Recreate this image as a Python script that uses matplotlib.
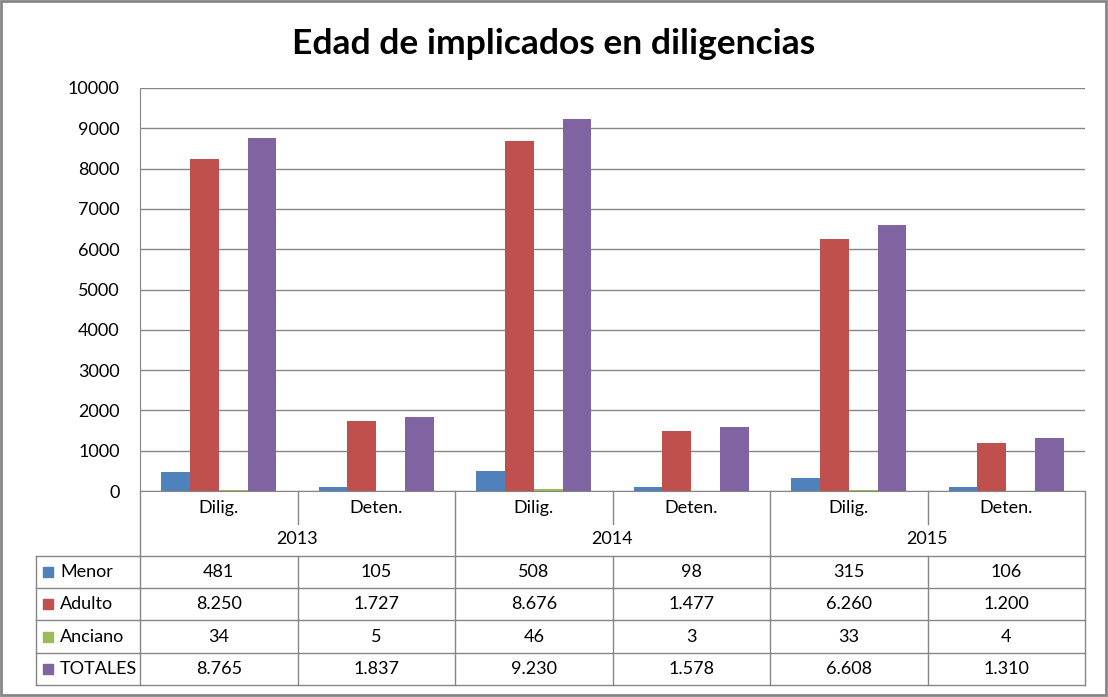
import numpy as np
import matplotlib
matplotlib.use("Agg")
import matplotlib.pyplot as plt
from matplotlib.lines import Line2D
from matplotlib.patches import Rectangle

plt.rcParams['font.family'] = ['Lato', 'DejaVu Sans']

### data
years = ['2013', '2014', '2015']
kinds = ['Dilig.', 'Deten.']
series = ['Menor', 'Adulto', 'Anciano', 'TOTALES']
menor = [481, 105, 508, 98, 315, 106]
adulto = [8250, 1727, 8676, 1477, 6260, 1200]
anciano = [34, 5, 46, 3, 33, 4]
totales = [8765, 1837, 9230, 1578, 6608, 1310]
colors = ['#4F81BD', '#C0504D', '#9BBB59', '#8064A2']

W, H = 1108, 697
fig = plt.figure(figsize=(W / 100, H / 100), dpi=100)

def fx(px):
  return px / W

def fy(py):
  return 1 - py / H

grey = '#868686'
x0, x1, ytop, ybot = 140, 1085, 88, 491
ax = fig.add_axes([fx(x0), fy(ybot), fx(x1 - x0), fy(ytop) - fy(ybot)])

values = [menor, adulto, anciano, totales]
ncat = len(menor)
xc = np.arange(ncat) + 0.5
bw = 0.183
for k, (vals, col) in enumerate(zip(values, colors)):
  ax.bar(xc + (k - 1.5) * bw, vals, width=bw, color=col, zorder=3)

ax.set_xlim(0, ncat)
ax.set_ylim(0, 10000)
ax.set_yticks(np.arange(0, 10001, 1000))
ax.set_xticks([])
ax.tick_params(axis='y', length=0, labelsize=13, pad=14.5)
ax.grid(axis='y', color=grey, linewidth=1, zorder=0)
for s in ['top', 'right']:
  ax.spines[s].set_visible(False)
ax.spines['left'].set_color(grey)
ax.spines['bottom'].set_color(grey)

fig.suptitle('Edad de implicados en diligencias', fontsize=25.5, fontweight='bold',
             y=fy(44), va='center')

### table below
def hline(xa, xb, y):
  fig.add_artist(Line2D([fx(xa), fx(xb)], [fy(y), fy(y)], color=grey, lw=1))

def vline(x, ya, yb):
  fig.add_artist(Line2D([fx(x), fx(x)], [fy(ya), fy(yb)], color=grey, lw=1))

colw = (x1 - x0) / ncat
rows = [556, 588, 620, 653, 685]
lx = 36
# category header
for i in range(ncat + 1):
  xx = x0 + i * colw
  if i % 2 == 0:
    vline(xx, ybot, rows[-1])
  else:
    vline(xx, ybot, 524)
for i in range(ncat):
  xx = x0 + (i + 0.5) * colw
  fig.text(fx(xx), fy(508), kinds[i % 2], ha='center', va='center', fontsize=13)
for j, yr in enumerate(years):
  xx = x0 + (2 * j + 1) * colw
  fig.text(fx(xx), fy(539), yr, ha='center', va='center', fontsize=13)
# data rows
for i in range(ncat):
  xx = x0 + i * colw
  if i % 2 == 1:
    vline(xx, rows[0], rows[-1])
vline(lx, rows[0], rows[-1])
for y in rows:
  hline(lx, x1, y)

def fmt(v):
  return '{:,}'.format(v).replace(',', '.')

for r, (name, vals, col) in enumerate(zip(series, values, colors)):
  yc = (rows[r] + rows[r + 1]) / 2
  fig.add_artist(Rectangle((fx(43), fy(yc + 5)), fx(10), fy(yc - 5) - fy(yc + 5),
                           color=col, transform=fig.transFigure))
  fig.text(fx(60), fy(yc), name, ha='left', va='center', fontsize=13)
  for i, v in enumerate(vals):
    xx = x0 + (i + 0.5) * colw
    fig.text(fx(xx), fy(yc), fmt(v), ha='center', va='center', fontsize=13)

# outer frame
fig.add_artist(Rectangle((fx(1), fy(695)), fx(1105), fy(1) - fy(695), fill=False,
                         edgecolor=grey, lw=2, transform=fig.transFigure))

plt.savefig('out.png', dpi=100)
